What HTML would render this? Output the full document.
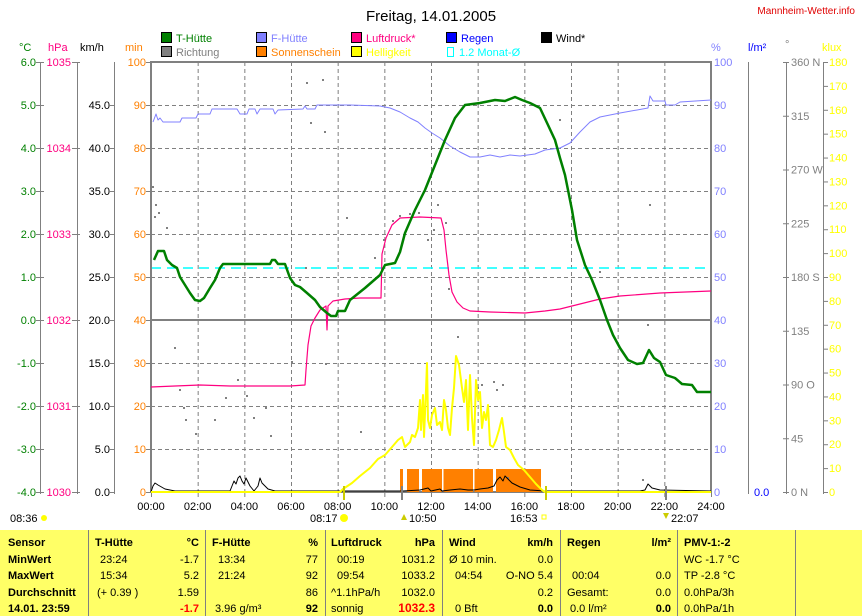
<!DOCTYPE html>
<html><head><meta charset="utf-8"><style>
html,body{margin:0;padding:0;background:#fff;}
svg{display:block;font-family:"Liberation Sans",sans-serif;}
text{font-size:11px;}
</style></head><body>
<svg id="s" width="862" height="616" viewBox="0 0 862 616" xmlns="http://www.w3.org/2000/svg">
<rect width="862" height="616" fill="#fff"/>
<text x="431" y="21" text-anchor="middle" style="font-size:15px">Freitag, 14.01.2005</text>
<text x="855" y="14" text-anchor="end" fill="#e00000" style="font-size:10px">Mannheim-Wetter.info</text>
<g stroke="#000" stroke-width="1">
<rect x="161.5" y="32.5" width="10" height="10" fill="#008000"/>
<rect x="256.5" y="32.5" width="10" height="10" fill="#8080ff"/>
<rect x="351.5" y="32.5" width="10" height="10" fill="#ff0080"/>
<rect x="446.5" y="32.5" width="10" height="10" fill="#0000ff"/>
<rect x="541.5" y="32.5" width="10" height="10" fill="#000"/>
<rect x="161.5" y="46.5" width="10" height="10" fill="#808080"/>
<rect x="256.5" y="46.5" width="10" height="10" fill="#ff8000"/>
<rect x="351.5" y="46.5" width="10" height="10" fill="#ffff00"/>
</g>
<rect x="447.5" y="47.5" width="6" height="9" fill="none" stroke="#00ffff"/>
<text x="176" y="42" fill="#008000">T-Hütte</text>
<text x="271" y="42" fill="#8080ff">F-Hütte</text>
<text x="366" y="42" fill="#ff0080">Luftdruck*</text>
<text x="461" y="42" fill="#0000ff">Regen</text>
<text x="556" y="42" fill="#000">Wind*</text>
<text x="176" y="56" fill="#808080">Richtung</text>
<text x="271" y="56" fill="#ff8000">Sonnenschein</text>
<text x="366" y="56" fill="#ffff00">Helligkeit</text>
<text x="459" y="56" fill="#00ffff">1.2 Monat-Ø</text>
<text x="19" y="51" fill="#008000">°C</text>
<text x="48" y="51" fill="#ff0080">hPa</text>
<text x="80" y="51" fill="#000">km/h</text>
<text x="125" y="51" fill="#ff8000">min</text>
<text x="711" y="51" fill="#8080ff">%</text>
<text x="748" y="51" fill="#0000ff">l/m²</text>
<text x="785" y="48" fill="#808080">°</text>
<text x="822" y="51" fill="#ffff00">klux</text>
<g id="grid"></g>
<g id="axes"></g>
<g id="series"></g>
<g id="labels"></g>
<text x="10" y="522" fill="#000">08:36</text><circle cx="44" cy="518" r="3" fill="#ffff00"/>
<text x="310" y="522" fill="#000">08:17</text><circle cx="344" cy="518" r="4" fill="#ffff00"/>
<text x="409" y="522" fill="#000">10:50</text><path d="M401 520 l3 -6 l3 6z" fill="#cccc00"/>
<text x="510" y="522" fill="#000">16:53</text><rect x="542" y="515" width="4" height="4" fill="none" stroke="#ffff00"/>
<text x="671" y="522" fill="#000">22:07</text><path d="M663 513 l3 6 l3 -6z" fill="#cccc00"/>
<rect x="0" y="530" width="862" height="86" fill="#ffff66"/>
<g stroke="#808080" stroke-width="1">
<line x1="88.5" y1="530" x2="88.5" y2="616"/><line x1="205.5" y1="530" x2="205.5" y2="616"/>
<line x1="325.5" y1="530" x2="325.5" y2="616"/><line x1="442.5" y1="530" x2="442.5" y2="616"/>
<line x1="560.5" y1="530" x2="560.5" y2="616"/><line x1="677.5" y1="530" x2="677.5" y2="616"/>
<line x1="795.5" y1="530" x2="795.5" y2="616"/>
</g>
<g style="font-weight:bold">
<text x="8" y="546">Sensor</text><text x="8" y="563">MinWert</text><text x="8" y="579">MaxWert</text><text x="8" y="596">Durchschnitt</text><text x="8" y="612">14.01. 23:59</text>
<text x="95" y="546">T-Hütte</text><text x="199" y="546" text-anchor="end">°C</text>
<text x="212" y="546">F-Hütte</text><text x="318" y="546" text-anchor="end">%</text>
<text x="331" y="546">Luftdruck</text><text x="435" y="546" text-anchor="end">hPa</text>
<text x="449" y="546">Wind</text><text x="553" y="546" text-anchor="end">km/h</text>
<text x="567" y="546">Regen</text><text x="671" y="546" text-anchor="end">l/m²</text>
<text x="684" y="546">PMV-1:-2</text>
</g>
<text x="100" y="563">23:24</text><text x="199" y="563" text-anchor="end">-1.7</text>
<text x="100" y="579">15:34</text><text x="199" y="579" text-anchor="end">5.2</text>
<text x="97" y="596">(+ 0.39 )</text><text x="199" y="596" text-anchor="end">1.59</text>
<text x="199" y="612" text-anchor="end" fill="#ff0000" style="font-weight:bold">-1.7</text>
<text x="218" y="563">13:34</text><text x="318" y="563" text-anchor="end">77</text>
<text x="218" y="579">21:24</text><text x="318" y="579" text-anchor="end">92</text>
<text x="318" y="596" text-anchor="end">86</text>
<text x="215" y="612">3.96 g/m³</text><text x="318" y="612" text-anchor="end" style="font-weight:bold">92</text>
<text x="337" y="563">00:19</text><text x="435" y="563" text-anchor="end">1031.2</text>
<text x="337" y="579">09:54</text><text x="435" y="579" text-anchor="end">1033.2</text>
<text x="331" y="596">^1.1hPa/h</text><text x="435" y="596" text-anchor="end">1032.0</text>
<text x="331" y="612">sonnig</text><text x="435" y="612" text-anchor="end" fill="#ff0000" style="font-weight:bold;font-size:12px">1032.3</text>
<text x="449" y="563">Ø 10 min.</text><text x="553" y="563" text-anchor="end">0.0</text>
<text x="455" y="579">04:54</text><text x="553" y="579" text-anchor="end">O-NO 5.4</text>
<text x="553" y="596" text-anchor="end">0.2</text>
<text x="455" y="612">0 Bft</text><text x="553" y="612" text-anchor="end" style="font-weight:bold">0.0</text>
<text x="572" y="579">00:04</text><text x="671" y="579" text-anchor="end">0.0</text>
<text x="567" y="596">Gesamt:</text><text x="671" y="596" text-anchor="end">0.0</text>
<text x="570" y="612">0.0 l/m²</text><text x="671" y="612" text-anchor="end" style="font-weight:bold">0.0</text>
<text x="684" y="563">WC -1.7 °C</text><text x="684" y="579">TP -2.8 °C</text><text x="684" y="596">0.0hPa/3h</text><text x="684" y="612">0.0hPa/1h</text>
</svg>
<script>
var NS="http://www.w3.org/2000/svg";
function el(p,t,a,txt){var e=document.createElementNS(NS,t);for(var k in a)e.setAttribute(k,a[k]);if(txt!=null)e.textContent=txt;document.getElementById(p).appendChild(e);return e;}
var L=151,R=711,T=62,B=492;
function X(h){return L+h*(R-L)/24;}
for(var i=1;i<10;i++){var y=T+i*43;if(i==6)continue;el("grid","line",{x1:L,x2:R,y1:y+.5,y2:y+.5,stroke:"#808080","stroke-dasharray":"4,3"});}
for(var h=2;h<24;h+=2){el("grid","line",{x1:X(h)+.5,x2:X(h)+.5,y1:T,y2:B,stroke:"#808080","stroke-dasharray":"4,3"});}
el("grid","line",{x1:L,x2:R,y1:320,y2:320,stroke:"#808080","stroke-width":2});
el("grid","line",{x1:L,x2:R,y1:268,y2:268,stroke:"#00ffff","stroke-width":1.5,"stroke-dasharray":"10,6"});
el("axes","rect",{x:L,y:T,width:R-L,height:B-T,fill:"none",stroke:"#808080","stroke-width":2});
[40,77,114,748,786,823].forEach(function(x){el("axes","line",{x1:x+.5,x2:x+.5,y1:T,y2:B+2,stroke:"#808080"});});
for(var i=0;i<=10;i++){var y=T+i*43;
 el("axes","line",{x1:36,x2:44,y1:y+.5,y2:y+.5,stroke:"#808080"});
 el("labels","text",{x:36,y:y+4,"text-anchor":"end",fill:"#008000"},(6-i).toFixed(1));
 el("labels","text",{x:R+3,y:y+4,fill:"#8080ff"},String(100-i*10));
 el("labels","text",{x:146,y:y+4,"text-anchor":"end",fill:"#ff8000"},String(100-i*10));
 el("axes","line",{x1:146,x2:151,y1:y+.5,y2:y+.5,stroke:"#808080"});
 if(i>0){el("labels","text",{x:110,y:y+4,"text-anchor":"end",fill:"#000"},(50-i*5).toFixed(1));el("axes","line",{x1:110,x2:114,y1:y+.5,y2:y+.5,stroke:"#808080"});}
}
for(var i=0;i<=5;i++){var y=T+i*86;el("labels","text",{x:71,y:y+4,"text-anchor":"end",fill:"#ff0080"},String(1035-i));el("axes","line",{x1:72,x2:80,y1:y+.5,y2:y+.5,stroke:"#808080"});}
var dn={360:" N",270:" W",180:" S",90:" O",0:" N"};
for(var i=0;i<=8;i++){var y=T+i*430/8,v=360-i*45;el("axes","line",{x1:783,x2:789,y1:y+.5,y2:y+.5,stroke:"#808080"});el("labels","text",{x:791,y:y+4,fill:"#808080"},v+(dn[v]||""));}
for(var i=0;i<=18;i++){var y=T+i*430/18;el("axes","line",{x1:823,x2:828,y1:y+.5,y2:y+.5,stroke:"#808080"});el("labels","text",{x:829,y:y+4,fill:"#ffff00"},String(180-i*10));}
el("labels","text",{x:754,y:496,fill:"#0000ff"},"0.0");
for(var h=0;h<=24;h+=2){el("axes","line",{x1:X(h)+.5,x2:X(h)+.5,y1:B,y2:B+5,stroke:"#808080"});el("labels","text",{x:X(h),y:510,"text-anchor":"middle"},(h<10?"0":"")+h+":00");}
function pl(pts,col,w){el("series","polyline",{points:pts.map(function(p){return p.join(",")}).join(" "),fill:"none",stroke:col,"stroke-width":w,"stroke-linejoin":"round"});}
[[400,403],[407,419],[422,442],[443.5,473],[474.5,493],[496,541]].forEach(function(b){el("series","rect",{x:b[0],y:469,width:b[1]-b[0],height:23,fill:"#ff8000"});});
[[153,187],[156,205],[159,213],[155,217],[167,228],[175,348],[180,390],[184,408],[186,420],[196,434],[215,420],[226,398],[238,380],[247,396],[254,418],[266,408],[271,436],[292,362],[306,268],[300,280],[325,132],[326,364],[375,258],[384,240],[393,221],[400,216],[410,214],[419,213],[428,240],[434,230],[438,205],[446,223],[449,289],[458,337],[478,388],[482,385],[494,382],[497,390],[503,385],[508,478],[600,272],[648,325],[643,480],[347,218],[361,432],[323,80],[345,62],[311,123],[307,83],[650,205],[560,120],[500,320]].forEach(function(d){el("series","rect",{x:d[0]-1,y:d[1]-1,width:2,height:2,fill:"#808080"});});
pl([[151,492],[153,486],[155,483],[158,485],[165,489],[175,491],[200,491],[230,491],[232,486],[234,481],[236,484],[238,478],[240,476],[242,481],[244,484],[246,478],[250,486],[254,491],[258,486],[260,478],[262,483],[268,489],[275,491],[300,491],[318,491],[350,491],[380,491],[403,491],[420,490],[428,488],[431,491],[440,489],[442,491],[450,490],[460,489],[468,490],[474,490],[480,489],[488,488],[494,486],[497,480],[500,477],[503,481],[505,476],[508,479],[512,483],[520,487],[530,490],[545,491],[640,491],[645,490],[648,484],[652,488],[660,490],[711,491]],"#000",1);
var br=[[151,492],[340,492],[343,489],[352,483],[360,476],[370,468],[378,459],[385,455],[392,447],[398,440],[402,437],[405,447],[410,442],[412,435],[415,437],[418,428],[420,400],[421,430],[423,395],[424,437],[426,390],[427,363],[428,420],[430,428],[432,415],[435,408],[437,425],[440,422],[442,430],[444,400],[446,410],[448,428],[450,435],[452,408],[454,388],[456,356],[459,365],[462,388],[464,402],[466,380],[468,430],[470,375],[472,418],[474,445],[476,380],[478,400],[480,392],[482,428],[484,412],[486,420],[488,405],[490,445],[493,447],[496,440],[499,430],[502,418],[504,432],[506,447],[510,450],[514,458],[518,465],[524,470],[530,477],[536,484],[542,490],[545,492],[711,492]];
pl(br,"#ffff00",2);
el("series","line",{x1:344,x2:344,y1:486,y2:500,stroke:"#cccc00","stroke-width":2});
el("series","line",{x1:546,x2:546,y1:486,y2:500,stroke:"#cccc00","stroke-width":2});
el("series","line",{x1:402,x2:402,y1:486,y2:500,stroke:"#808080","stroke-width":2});
el("series","line",{x1:666,x2:666,y1:486,y2:500,stroke:"#808080","stroke-width":2});
pl([[153,122],[156,114],[158,120],[160,118],[163,122],[180,122],[182,118],[196,118],[198,114],[210,114],[212,109],[237,109],[240,114],[247,114],[249,109],[255,109],[257,114],[260,109],[273,109],[275,114],[278,110],[303,109],[305,106],[307,109],[315,109],[317,105],[350,105],[380,106],[390,108],[400,112],[410,118],[418,122],[425,128],[432,133],[440,138],[450,146],[460,152],[470,157],[480,157],[490,155],[500,157],[510,155],[520,156],[535,154],[545,150],[560,148],[570,143],[580,132],[590,122],[600,117],[620,113],[648,108],[650,96],[653,101],[665,101],[666,105],[675,105],[680,102],[711,100]],"#8080ff",1);
pl([[151,387],[175,386],[200,385],[230,386],[260,386],[290,386],[305,385],[306,370],[308,345],[311,326],[315,318],[320,310],[326,306],[327,330],[328,306],[333,301],[345,299],[360,298],[375,298],[381,298],[382,254],[386,238],[392,225],[400,218],[420,217],[441,218],[444,230],[446,250],[449,275],[452,292],[457,302],[463,308],[470,311],[490,312],[525,313],[545,311],[560,309],[580,304],[600,299],[620,296],[660,293],[711,291]],"#ff0080",1.2);
pl([[154,260],[158,251],[164,251],[167,260],[172,265],[177,268],[180,277],[185,285],[190,293],[195,300],[200,301],[204,298],[210,288],[215,280],[220,268],[223,264],[240,264],[270,264],[272,260],[275,260],[278,264],[285,264],[290,278],[295,285],[300,287],[307,293],[315,300],[320,307],[327,313],[331,316],[336,316],[338,311],[345,311],[350,300],[365,288],[380,275],[385,265],[395,263],[400,252],[405,233],[415,210],[425,190],[435,165],[445,140],[455,118],[465,105],[480,103],[495,100],[505,101],[515,97],[522,100],[530,103],[540,108],[548,125],[555,140],[560,158],[565,175],[572,210],[577,240],[585,265],[592,280],[600,300],[607,320],[613,335],[620,348],[628,360],[637,364],[643,363],[649,350],[654,358],[660,362],[666,375],[675,378],[682,384],[692,385],[697,392],[711,392]],"#008000",2.5);
</script>
</body></html>
